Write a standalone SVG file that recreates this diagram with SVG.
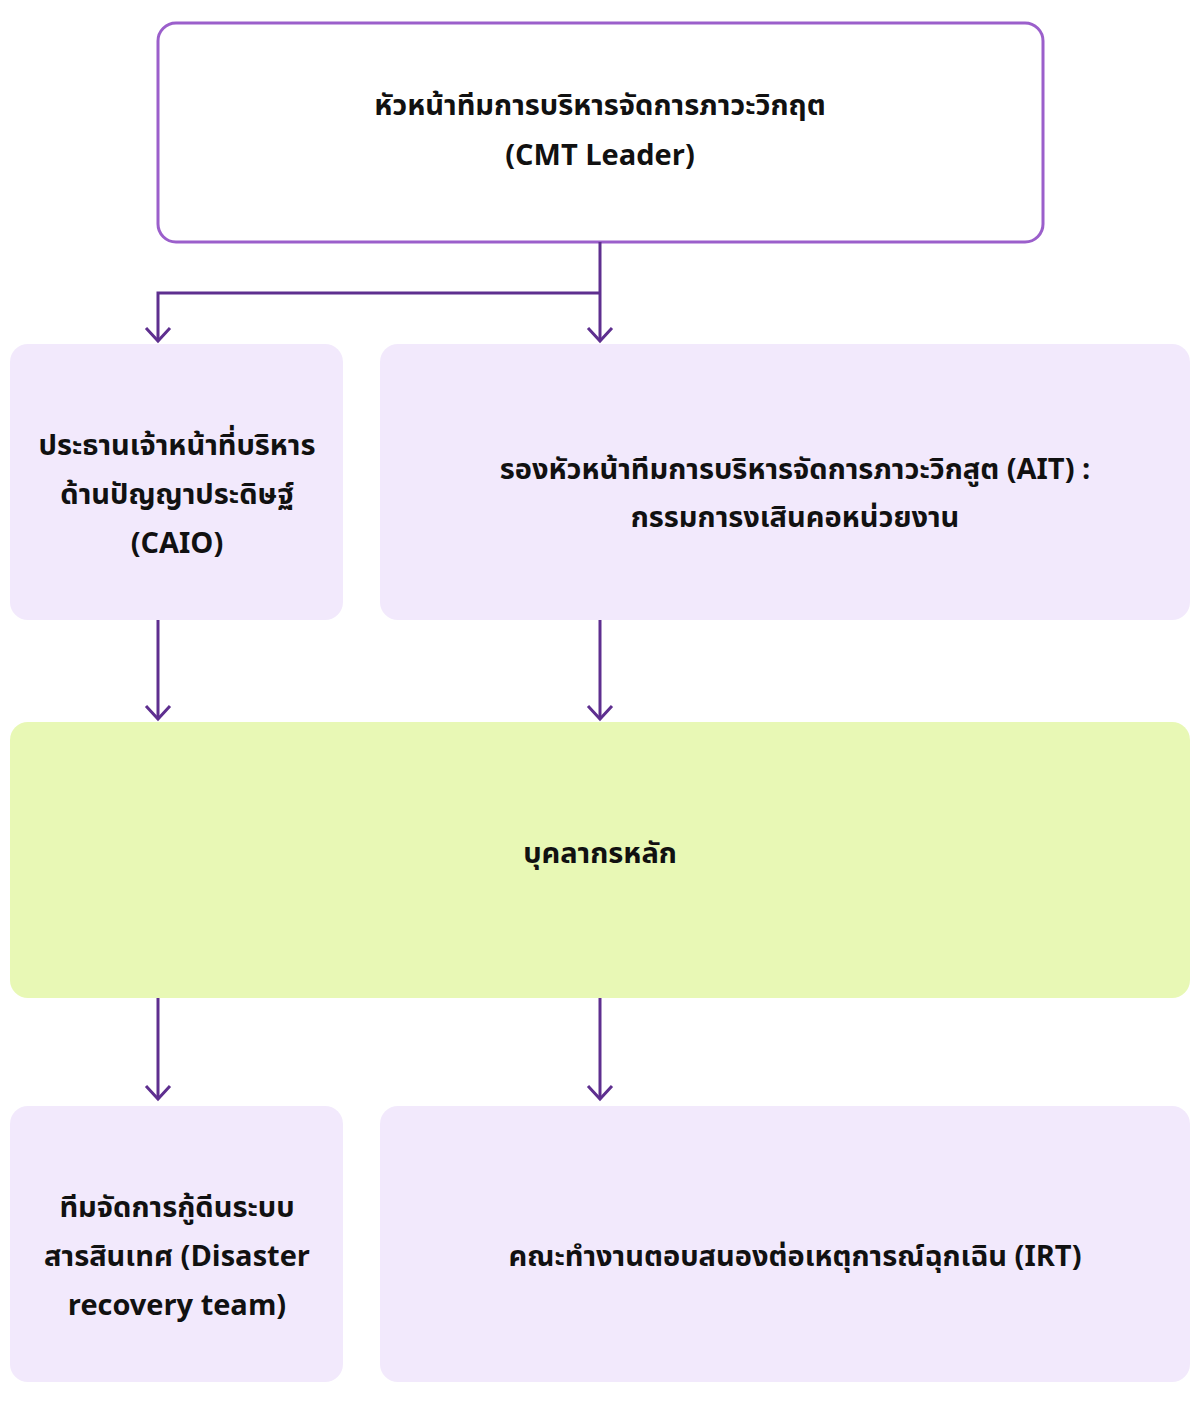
<svg xmlns="http://www.w3.org/2000/svg" width="1201" height="1416" viewBox="0 0 1201 1416">
<style>
text{font-family:"Noto Sans Thai","Noto Sans","DejaVu Sans",sans-serif;font-weight:bold;font-size:29px;fill:#111;text-anchor:middle}
.p{fill:#f2e9fc}
.c{stroke:#5e2f8f;stroke-width:3;fill:none}
</style>
<defs><marker id="a" markerWidth="30" markerHeight="30" refX="24" refY="15" orient="auto" markerUnits="userSpaceOnUse"><path d="M11 3 L24 15 L11 27" fill="none" stroke="#5e2f8f" stroke-width="3"/></marker></defs>
<rect width="1201" height="1416" fill="#fff"/>
<g id="leader"><rect x="158" y="23" width="885" height="219" rx="18" fill="#fff" stroke="#9b5fcb" stroke-width="3"/><text x="600" y="115">หัวหน้าทีมการบริหารจัดการภาวะวิกฤต</text><text x="600" y="165">(CMT Leader)</text></g>
<g id="caio"><rect class="p" x="10" y="344" width="333" height="276" rx="18"/><text x="177" y="455">ประธานเจ้าหน้าที่บริหาร</text><text x="177" y="504">ด้านปัญญาประดิษฐ์</text><text x="177" y="553">(CAIO)</text></g>
<g id="ait"><rect class="p" x="380" y="344" width="810" height="276" rx="18"/><text x="795" y="479">รองหัวหน้าทีมการบริหารจัดการภาวะวิกสูต (AIT) :</text><text x="795" y="527">กรรมการงเสินคอหน่วยงาน</text></g>
<g id="core"><rect x="10" y="722" width="1180" height="276" rx="18" fill="#e8f8b5"/><text x="600" y="863">บุคลากรหลัก</text></g>
<g id="dr"><rect class="p" x="10" y="1106" width="333" height="276" rx="18"/><text x="177" y="1217">ทีมจัดการกู้ดีนระบบ</text><text x="177" y="1266">สารสินเทศ (Disaster</text><text x="177" y="1315">recovery team)</text></g>
<g id="irt"><rect class="p" x="380" y="1106" width="810" height="276" rx="18"/><text x="795" y="1266">คณะทำงานตอบสนองต่อเหตุการณ์ฉุกเฉิน (IRT)</text></g>
<g id="connectors" class="c">
<path d="M600 242 V341" marker-end="url(#a)"/>
<path d="M600 293 H158 V341" marker-end="url(#a)"/>
<path d="M158 620 V719" marker-end="url(#a)"/>
<path d="M600 620 V719" marker-end="url(#a)"/>
<path d="M158 998 V1099" marker-end="url(#a)"/>
<path d="M600 998 V1099" marker-end="url(#a)"/>
</g>
</svg>
